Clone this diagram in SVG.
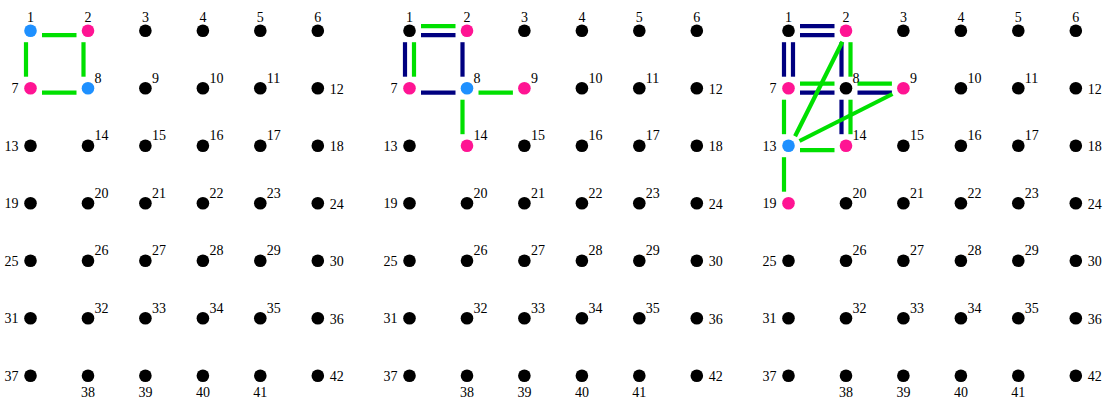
<svg xmlns="http://www.w3.org/2000/svg" width="1103" height="403" viewBox="0 0 1103 403">
<style>
text{font-family:"Liberation Serif","Times New Roman",serif;font-size:14px;fill:#000}
.m{text-anchor:middle}.e{text-anchor:end}
circle{stroke:none}
.k{fill:#000}.p{fill:#ff1493}.b{fill:#1e90ff}
line{stroke-width:4.2;stroke-linecap:butt}
.g{stroke:#00e000}.n{stroke:#000080}
</style>
<rect width="1103" height="403" fill="#fff"/>
<g id="connectors">
<g id="edges-1">
<line class="g" x1="42" y1="35.2" x2="76.5" y2="35.2"/>
<line class="g" x1="83.5" y1="42.2" x2="83.5" y2="76.7"/>
<line class="g" x1="26" y1="42.2" x2="26" y2="76.7"/>
<line class="g" x1="42" y1="92.7" x2="76.5" y2="92.7"/>
</g>
<g id="edges-2" transform="translate(379,0)">
<line class="n" x1="42" y1="35.2" x2="76.5" y2="35.2"/>
<line class="g" x1="42" y1="26.2" x2="76.5" y2="26.2"/>
<line class="n" x1="26" y1="42.2" x2="26" y2="76.7"/>
<line class="g" x1="35" y1="42.2" x2="35" y2="76.7"/>
<line class="n" x1="83.5" y1="42.2" x2="83.5" y2="76.7"/>
<line class="n" x1="42" y1="92.7" x2="76.5" y2="92.7"/>
<line class="g" x1="99.5" y1="92.7" x2="133.9" y2="92.7"/>
<line class="g" x1="83.5" y1="99.7" x2="83.5" y2="134.2"/>
</g>
<g id="edges-3" transform="translate(758,0)">
<line class="n" x1="42" y1="35.2" x2="76.5" y2="35.2"/>
<line class="n" x1="42" y1="26.2" x2="76.5" y2="26.2"/>
<line class="n" x1="26" y1="42.2" x2="26" y2="76.7"/>
<line class="n" x1="35" y1="42.2" x2="35" y2="76.7"/>
<line class="n" x1="83.5" y1="42.2" x2="83.5" y2="76.7"/>
<line class="g" x1="92.5" y1="42.2" x2="92.5" y2="76.7"/>
<line class="n" x1="42" y1="92.7" x2="76.5" y2="92.7"/>
<line class="g" x1="42" y1="83.7" x2="76.5" y2="83.7"/>
<line class="n" x1="99.5" y1="92.7" x2="133.9" y2="92.7"/>
<line class="g" x1="99.5" y1="83.7" x2="133.9" y2="83.7"/>
<line class="n" x1="83.5" y1="99.7" x2="83.5" y2="134.2"/>
<line class="g" x1="92.5" y1="99.7" x2="92.5" y2="134.2"/>
<line class="g" x1="26" y1="99.7" x2="26" y2="134.2"/>
<line class="g" x1="42" y1="150.2" x2="76.5" y2="150.2"/>
<line class="g" x1="26" y1="157.2" x2="26" y2="191.7"/>
<line class="g" x1="84.4" y1="41.8" x2="37.1" y2="136.2"/>
<line class="g" x1="134.5" y1="94" x2="41.5" y2="141"/>
</g>
</g>
<g id="grid-1">
<g id="a1"><circle class="b" cx="30.5" cy="30.7" r="6.3"/><text class="m" x="30.5" y="21.7">1</text></g>
<g id="a2"><circle class="p" cx="88" cy="30.7" r="6.3"/><text class="m" x="88" y="21.7">2</text></g>
<g id="a3"><circle class="k" cx="145.4" cy="30.7" r="6.3"/><text class="m" x="145.4" y="21.7">3</text></g>
<g id="a4"><circle class="k" cx="202.9" cy="30.7" r="6.3"/><text class="m" x="202.9" y="21.7">4</text></g>
<g id="a5"><circle class="k" cx="260.3" cy="30.7" r="6.3"/><text class="m" x="260.3" y="21.7">5</text></g>
<g id="a6"><circle class="k" cx="317.8" cy="30.7" r="6.3"/><text class="m" x="317.8" y="21.7">6</text></g>
<g id="a7"><circle class="p" cx="30.5" cy="88.2" r="6.3"/><text class="e" x="18.5" y="93.2">7</text></g>
<g id="a8"><circle class="b" cx="88" cy="88.2" r="6.3"/><text x="94.5" y="82.7">8</text></g>
<g id="a9"><circle class="k" cx="145.4" cy="88.2" r="6.3"/><text x="151.9" y="82.7">9</text></g>
<g id="a10"><circle class="k" cx="202.9" cy="88.2" r="6.3"/><text x="209.4" y="82.7">10</text></g>
<g id="a11"><circle class="k" cx="260.3" cy="88.2" r="6.3"/><text x="266.8" y="82.7">11</text></g>
<g id="a12"><circle class="k" cx="317.8" cy="88.2" r="6.3"/><text x="329.8" y="93.7">12</text></g>
<g id="a13"><circle class="k" cx="30.5" cy="145.7" r="6.3"/><text class="e" x="18.5" y="150.7">13</text></g>
<g id="a14"><circle class="k" cx="88" cy="145.7" r="6.3"/><text x="94.5" y="140.2">14</text></g>
<g id="a15"><circle class="k" cx="145.4" cy="145.7" r="6.3"/><text x="151.9" y="140.2">15</text></g>
<g id="a16"><circle class="k" cx="202.9" cy="145.7" r="6.3"/><text x="209.4" y="140.2">16</text></g>
<g id="a17"><circle class="k" cx="260.3" cy="145.7" r="6.3"/><text x="266.8" y="140.2">17</text></g>
<g id="a18"><circle class="k" cx="317.8" cy="145.7" r="6.3"/><text x="329.8" y="151.2">18</text></g>
<g id="a19"><circle class="k" cx="30.5" cy="203.2" r="6.3"/><text class="e" x="18.5" y="208.2">19</text></g>
<g id="a20"><circle class="k" cx="88" cy="203.2" r="6.3"/><text x="94.5" y="197.7">20</text></g>
<g id="a21"><circle class="k" cx="145.4" cy="203.2" r="6.3"/><text x="151.9" y="197.7">21</text></g>
<g id="a22"><circle class="k" cx="202.9" cy="203.2" r="6.3"/><text x="209.4" y="197.7">22</text></g>
<g id="a23"><circle class="k" cx="260.3" cy="203.2" r="6.3"/><text x="266.8" y="197.7">23</text></g>
<g id="a24"><circle class="k" cx="317.8" cy="203.2" r="6.3"/><text x="329.8" y="208.7">24</text></g>
<g id="a25"><circle class="k" cx="30.5" cy="260.7" r="6.3"/><text class="e" x="18.5" y="265.7">25</text></g>
<g id="a26"><circle class="k" cx="88" cy="260.7" r="6.3"/><text x="94.5" y="255.2">26</text></g>
<g id="a27"><circle class="k" cx="145.4" cy="260.7" r="6.3"/><text x="151.9" y="255.2">27</text></g>
<g id="a28"><circle class="k" cx="202.9" cy="260.7" r="6.3"/><text x="209.4" y="255.2">28</text></g>
<g id="a29"><circle class="k" cx="260.3" cy="260.7" r="6.3"/><text x="266.8" y="255.2">29</text></g>
<g id="a30"><circle class="k" cx="317.8" cy="260.7" r="6.3"/><text x="329.8" y="266.2">30</text></g>
<g id="a31"><circle class="k" cx="30.5" cy="318.2" r="6.3"/><text class="e" x="18.5" y="323.2">31</text></g>
<g id="a32"><circle class="k" cx="88" cy="318.2" r="6.3"/><text x="94.5" y="312.7">32</text></g>
<g id="a33"><circle class="k" cx="145.4" cy="318.2" r="6.3"/><text x="151.9" y="312.7">33</text></g>
<g id="a34"><circle class="k" cx="202.9" cy="318.2" r="6.3"/><text x="209.4" y="312.7">34</text></g>
<g id="a35"><circle class="k" cx="260.3" cy="318.2" r="6.3"/><text x="266.8" y="312.7">35</text></g>
<g id="a36"><circle class="k" cx="317.8" cy="318.2" r="6.3"/><text x="329.8" y="323.7">36</text></g>
<g id="a37"><circle class="k" cx="30.5" cy="375.7" r="6.3"/><text class="e" x="18.5" y="380.7">37</text></g>
<g id="a38"><circle class="k" cx="88" cy="375.7" r="6.3"/><text class="m" x="88" y="397">38</text></g>
<g id="a39"><circle class="k" cx="145.4" cy="375.7" r="6.3"/><text class="m" x="145.4" y="397">39</text></g>
<g id="a40"><circle class="k" cx="202.9" cy="375.7" r="6.3"/><text class="m" x="202.9" y="397">40</text></g>
<g id="a41"><circle class="k" cx="260.3" cy="375.7" r="6.3"/><text class="m" x="260.3" y="397">41</text></g>
<g id="a42"><circle class="k" cx="317.8" cy="375.7" r="6.3"/><text x="329.8" y="381.2">42</text></g>
</g>
<g id="grid-2" transform="translate(379,0)">
<g id="b1"><circle class="k" cx="30.5" cy="30.7" r="6.3"/><text class="m" x="30.5" y="21.7">1</text></g>
<g id="b2"><circle class="p" cx="88" cy="30.7" r="6.3"/><text class="m" x="88" y="21.7">2</text></g>
<g id="b3"><circle class="k" cx="145.4" cy="30.7" r="6.3"/><text class="m" x="145.4" y="21.7">3</text></g>
<g id="b4"><circle class="k" cx="202.9" cy="30.7" r="6.3"/><text class="m" x="202.9" y="21.7">4</text></g>
<g id="b5"><circle class="k" cx="260.3" cy="30.7" r="6.3"/><text class="m" x="260.3" y="21.7">5</text></g>
<g id="b6"><circle class="k" cx="317.8" cy="30.7" r="6.3"/><text class="m" x="317.8" y="21.7">6</text></g>
<g id="b7"><circle class="p" cx="30.5" cy="88.2" r="6.3"/><text class="e" x="18.5" y="93.2">7</text></g>
<g id="b8"><circle class="b" cx="88" cy="88.2" r="6.3"/><text x="94.5" y="82.7">8</text></g>
<g id="b9"><circle class="p" cx="145.4" cy="88.2" r="6.3"/><text x="151.9" y="82.7">9</text></g>
<g id="b10"><circle class="k" cx="202.9" cy="88.2" r="6.3"/><text x="209.4" y="82.7">10</text></g>
<g id="b11"><circle class="k" cx="260.3" cy="88.2" r="6.3"/><text x="266.8" y="82.7">11</text></g>
<g id="b12"><circle class="k" cx="317.8" cy="88.2" r="6.3"/><text x="329.8" y="93.7">12</text></g>
<g id="b13"><circle class="k" cx="30.5" cy="145.7" r="6.3"/><text class="e" x="18.5" y="150.7">13</text></g>
<g id="b14"><circle class="p" cx="88" cy="145.7" r="6.3"/><text x="94.5" y="140.2">14</text></g>
<g id="b15"><circle class="k" cx="145.4" cy="145.7" r="6.3"/><text x="151.9" y="140.2">15</text></g>
<g id="b16"><circle class="k" cx="202.9" cy="145.7" r="6.3"/><text x="209.4" y="140.2">16</text></g>
<g id="b17"><circle class="k" cx="260.3" cy="145.7" r="6.3"/><text x="266.8" y="140.2">17</text></g>
<g id="b18"><circle class="k" cx="317.8" cy="145.7" r="6.3"/><text x="329.8" y="151.2">18</text></g>
<g id="b19"><circle class="k" cx="30.5" cy="203.2" r="6.3"/><text class="e" x="18.5" y="208.2">19</text></g>
<g id="b20"><circle class="k" cx="88" cy="203.2" r="6.3"/><text x="94.5" y="197.7">20</text></g>
<g id="b21"><circle class="k" cx="145.4" cy="203.2" r="6.3"/><text x="151.9" y="197.7">21</text></g>
<g id="b22"><circle class="k" cx="202.9" cy="203.2" r="6.3"/><text x="209.4" y="197.7">22</text></g>
<g id="b23"><circle class="k" cx="260.3" cy="203.2" r="6.3"/><text x="266.8" y="197.7">23</text></g>
<g id="b24"><circle class="k" cx="317.8" cy="203.2" r="6.3"/><text x="329.8" y="208.7">24</text></g>
<g id="b25"><circle class="k" cx="30.5" cy="260.7" r="6.3"/><text class="e" x="18.5" y="265.7">25</text></g>
<g id="b26"><circle class="k" cx="88" cy="260.7" r="6.3"/><text x="94.5" y="255.2">26</text></g>
<g id="b27"><circle class="k" cx="145.4" cy="260.7" r="6.3"/><text x="151.9" y="255.2">27</text></g>
<g id="b28"><circle class="k" cx="202.9" cy="260.7" r="6.3"/><text x="209.4" y="255.2">28</text></g>
<g id="b29"><circle class="k" cx="260.3" cy="260.7" r="6.3"/><text x="266.8" y="255.2">29</text></g>
<g id="b30"><circle class="k" cx="317.8" cy="260.7" r="6.3"/><text x="329.8" y="266.2">30</text></g>
<g id="b31"><circle class="k" cx="30.5" cy="318.2" r="6.3"/><text class="e" x="18.5" y="323.2">31</text></g>
<g id="b32"><circle class="k" cx="88" cy="318.2" r="6.3"/><text x="94.5" y="312.7">32</text></g>
<g id="b33"><circle class="k" cx="145.4" cy="318.2" r="6.3"/><text x="151.9" y="312.7">33</text></g>
<g id="b34"><circle class="k" cx="202.9" cy="318.2" r="6.3"/><text x="209.4" y="312.7">34</text></g>
<g id="b35"><circle class="k" cx="260.3" cy="318.2" r="6.3"/><text x="266.8" y="312.7">35</text></g>
<g id="b36"><circle class="k" cx="317.8" cy="318.2" r="6.3"/><text x="329.8" y="323.7">36</text></g>
<g id="b37"><circle class="k" cx="30.5" cy="375.7" r="6.3"/><text class="e" x="18.5" y="380.7">37</text></g>
<g id="b38"><circle class="k" cx="88" cy="375.7" r="6.3"/><text class="m" x="88" y="397">38</text></g>
<g id="b39"><circle class="k" cx="145.4" cy="375.7" r="6.3"/><text class="m" x="145.4" y="397">39</text></g>
<g id="b40"><circle class="k" cx="202.9" cy="375.7" r="6.3"/><text class="m" x="202.9" y="397">40</text></g>
<g id="b41"><circle class="k" cx="260.3" cy="375.7" r="6.3"/><text class="m" x="260.3" y="397">41</text></g>
<g id="b42"><circle class="k" cx="317.8" cy="375.7" r="6.3"/><text x="329.8" y="381.2">42</text></g>
</g>
<g id="grid-3" transform="translate(758,0)">
<g id="c1"><circle class="k" cx="30.5" cy="30.7" r="6.3"/><text class="m" x="30.5" y="21.7">1</text></g>
<g id="c2"><circle class="p" cx="88" cy="30.7" r="6.3"/><text class="m" x="88" y="21.7">2</text></g>
<g id="c3"><circle class="k" cx="145.4" cy="30.7" r="6.3"/><text class="m" x="145.4" y="21.7">3</text></g>
<g id="c4"><circle class="k" cx="202.9" cy="30.7" r="6.3"/><text class="m" x="202.9" y="21.7">4</text></g>
<g id="c5"><circle class="k" cx="260.3" cy="30.7" r="6.3"/><text class="m" x="260.3" y="21.7">5</text></g>
<g id="c6"><circle class="k" cx="317.8" cy="30.7" r="6.3"/><text class="m" x="317.8" y="21.7">6</text></g>
<g id="c7"><circle class="p" cx="30.5" cy="88.2" r="6.3"/><text class="e" x="18.5" y="93.2">7</text></g>
<g id="c8"><circle class="k" cx="88" cy="88.2" r="6.3"/><text x="94.5" y="82.7">8</text></g>
<g id="c9"><circle class="p" cx="145.4" cy="88.2" r="6.3"/><text x="151.9" y="82.7">9</text></g>
<g id="c10"><circle class="k" cx="202.9" cy="88.2" r="6.3"/><text x="209.4" y="82.7">10</text></g>
<g id="c11"><circle class="k" cx="260.3" cy="88.2" r="6.3"/><text x="266.8" y="82.7">11</text></g>
<g id="c12"><circle class="k" cx="317.8" cy="88.2" r="6.3"/><text x="329.8" y="93.7">12</text></g>
<g id="c13"><circle class="b" cx="30.5" cy="145.7" r="6.3"/><text class="e" x="18.5" y="150.7">13</text></g>
<g id="c14"><circle class="p" cx="88" cy="145.7" r="6.3"/><text x="94.5" y="140.2">14</text></g>
<g id="c15"><circle class="k" cx="145.4" cy="145.7" r="6.3"/><text x="151.9" y="140.2">15</text></g>
<g id="c16"><circle class="k" cx="202.9" cy="145.7" r="6.3"/><text x="209.4" y="140.2">16</text></g>
<g id="c17"><circle class="k" cx="260.3" cy="145.7" r="6.3"/><text x="266.8" y="140.2">17</text></g>
<g id="c18"><circle class="k" cx="317.8" cy="145.7" r="6.3"/><text x="329.8" y="151.2">18</text></g>
<g id="c19"><circle class="p" cx="30.5" cy="203.2" r="6.3"/><text class="e" x="18.5" y="208.2">19</text></g>
<g id="c20"><circle class="k" cx="88" cy="203.2" r="6.3"/><text x="94.5" y="197.7">20</text></g>
<g id="c21"><circle class="k" cx="145.4" cy="203.2" r="6.3"/><text x="151.9" y="197.7">21</text></g>
<g id="c22"><circle class="k" cx="202.9" cy="203.2" r="6.3"/><text x="209.4" y="197.7">22</text></g>
<g id="c23"><circle class="k" cx="260.3" cy="203.2" r="6.3"/><text x="266.8" y="197.7">23</text></g>
<g id="c24"><circle class="k" cx="317.8" cy="203.2" r="6.3"/><text x="329.8" y="208.7">24</text></g>
<g id="c25"><circle class="k" cx="30.5" cy="260.7" r="6.3"/><text class="e" x="18.5" y="265.7">25</text></g>
<g id="c26"><circle class="k" cx="88" cy="260.7" r="6.3"/><text x="94.5" y="255.2">26</text></g>
<g id="c27"><circle class="k" cx="145.4" cy="260.7" r="6.3"/><text x="151.9" y="255.2">27</text></g>
<g id="c28"><circle class="k" cx="202.9" cy="260.7" r="6.3"/><text x="209.4" y="255.2">28</text></g>
<g id="c29"><circle class="k" cx="260.3" cy="260.7" r="6.3"/><text x="266.8" y="255.2">29</text></g>
<g id="c30"><circle class="k" cx="317.8" cy="260.7" r="6.3"/><text x="329.8" y="266.2">30</text></g>
<g id="c31"><circle class="k" cx="30.5" cy="318.2" r="6.3"/><text class="e" x="18.5" y="323.2">31</text></g>
<g id="c32"><circle class="k" cx="88" cy="318.2" r="6.3"/><text x="94.5" y="312.7">32</text></g>
<g id="c33"><circle class="k" cx="145.4" cy="318.2" r="6.3"/><text x="151.9" y="312.7">33</text></g>
<g id="c34"><circle class="k" cx="202.9" cy="318.2" r="6.3"/><text x="209.4" y="312.7">34</text></g>
<g id="c35"><circle class="k" cx="260.3" cy="318.2" r="6.3"/><text x="266.8" y="312.7">35</text></g>
<g id="c36"><circle class="k" cx="317.8" cy="318.2" r="6.3"/><text x="329.8" y="323.7">36</text></g>
<g id="c37"><circle class="k" cx="30.5" cy="375.7" r="6.3"/><text class="e" x="18.5" y="380.7">37</text></g>
<g id="c38"><circle class="k" cx="88" cy="375.7" r="6.3"/><text class="m" x="88" y="397">38</text></g>
<g id="c39"><circle class="k" cx="145.4" cy="375.7" r="6.3"/><text class="m" x="145.4" y="397">39</text></g>
<g id="c40"><circle class="k" cx="202.9" cy="375.7" r="6.3"/><text class="m" x="202.9" y="397">40</text></g>
<g id="c41"><circle class="k" cx="260.3" cy="375.7" r="6.3"/><text class="m" x="260.3" y="397">41</text></g>
<g id="c42"><circle class="k" cx="317.8" cy="375.7" r="6.3"/><text x="329.8" y="381.2">42</text></g>
</g>
</svg>
